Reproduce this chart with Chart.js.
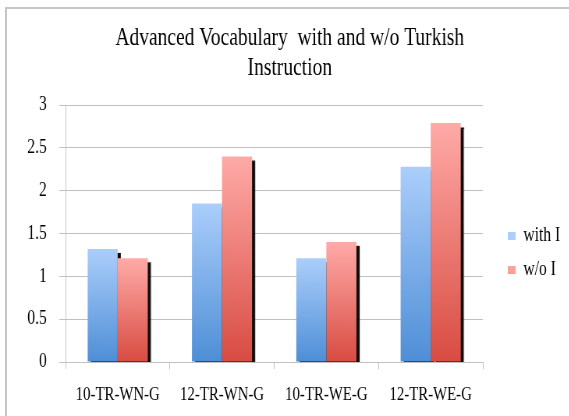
<!DOCTYPE html>
<html>
<head>
<meta charset="utf-8">
<title>Advanced Vocabulary with and w/o Turkish Instruction</title>
<script src="https://cdn.jsdelivr.net/npm/chart.js@4/dist/chart.umd.min.js"></script>
<style>
  html, body { margin: 0; padding: 0; background: #fff; overflow: hidden; }
  body { width: 569px; height: 416px; position: relative; }
  /* chart frame: only its top and left edges are inside the picture */
  #frame {
    position: absolute; left: 5px; top: 7px; width: 600px; height: 450px;
    border-left: 2px solid #c6c6c6; border-top: 2px solid #c6c6c6;
  }
  /* the original chart is horizontally squeezed, so draw it wide and squeeze it */
  #wrap {
    position: absolute; left: 0; top: 0; width: 730px; height: 416px;
    transform: scaleX(0.78); transform-origin: 0 0;
  }
</style>
</head>
<body>
<div id="frame"></div>
<div id="wrap"><canvas id="chart"></canvas></div>
<script>
// ─────────────────────────────────────────────────────────────────────────────
// Data
// ─────────────────────────────────────────────────────────────────────────────

const CATEGORIES = ['10-TR-WN-G', '12-TR-WN-G', '10-TR-WE-G', '12-TR-WE-G'];
const WITH_I     = [1.32, 1.85, 1.21, 2.28];
const WITHOUT_I  = [1.21, 2.40, 1.40, 2.79];
const SERIES     = ['with I', 'w/o I'];
const TITLE      = ['Advanced Vocabulary  with and w/o Turkish', 'Instruction'];
const Y_MAX  = 3;
const Y_STEP = 0.5;

// ─────────────────────────────────────────────────────────────────────────────
// Styling
// ─────────────────────────────────────────────────────────────────────────────

const FONT_FAMILY = "'Liberation Serif', 'Times New Roman', serif";
const GRID = '#c0c0c0';
const SHADOW = 'rgba(0,0,0,0.95)';
const SHADOW_DX = 4;
const SHADOW_DY = 4;

const BLUE = { top: '#abcefb', mid: '#74a8e6', bottom: '#4e8ed6' };
const RED  = { top: '#ffaaa7', mid: '#ec7871', bottom: '#d84c42' };

// vertical gradient per bar, light at the top, dark at the base
function barFill(c) {
  return (ctx) => {
    const chart = ctx.chart;
    if (!chart.chartArea || ctx.type !== 'data') return c.mid;
    const y = chart.scales.y;
    const yTop = y.getPixelForValue(ctx.raw);
    const yBase = y.getPixelForValue(0);
    const grad = chart.ctx.createLinearGradient(0, yTop, 0, yBase);
    grad.addColorStop(0, c.top);
    grad.addColorStop(1, c.bottom);
    return grad;
  };
}

// Hard black drop shadow. Chart.js paints the last dataset first, so the
// first dataset's shadow is laid down before anything else (under the red
// bars), and the red bars get a regular canvas shadow.
const barShadow = {
  id: 'barShadow',
  beforeDatasetsDraw(chart) {
    const { ctx, chartArea: a } = chart;
    ctx.save();
    ctx.beginPath();
    ctx.rect(a.left, a.top, a.right - a.left, a.bottom - a.top);
    ctx.clip();
    ctx.fillStyle = SHADOW;
    for (const el of chart.getDatasetMeta(0).data) {
      const { x, y, base, width } = el.getProps(['x', 'y', 'base', 'width'], true);
      ctx.fillRect(x - width / 2 + SHADOW_DX, y + SHADOW_DY, width, base - y);
    }
    ctx.restore();
  },
  beforeDatasetDraw(chart, args) {
    const c = chart.ctx;
    c.save();
    if (args.index === 1) {
      c.shadowColor = SHADOW;
      c.shadowOffsetX = SHADOW_DX;
      c.shadowOffsetY = SHADOW_DY;
      c.shadowBlur = 1;
    }
  },
  afterDatasetDraw(chart) {
    chart.ctx.restore();
  },
};

new Chart(document.getElementById('chart'), { // eslint-disable-line no-undef
  type: 'bar',
  data: {
    labels: CATEGORIES,
    datasets: [
      {
        label: SERIES[0],
        data: WITH_I,
        backgroundColor: barFill(BLUE),
        borderWidth: 0,
        clip: 0,
      },
      {
        label: SERIES[1],
        data: WITHOUT_I,
        backgroundColor: barFill(RED),
        borderWidth: 0,
        clip: 0,
      },
    ],
  },
  plugins: [barShadow],
  options: {
    responsive: true,
    maintainAspectRatio: false,
    devicePixelRatio: 1,
    animation: false,
    categoryPercentage: 0.576,
    barPercentage: 1,
    layout: { padding: { top: 10, left: 20, right: 7, bottom: 0 } },
    scales: {
      x: {
        grid: {
          offset: true,
          drawOnChartArea: false,
          drawTicks: true,
          tickLength: 7,
          color: GRID,
        },
        border: { display: true, color: GRID },
        ticks: {
          color: '#000',
          padding: 15,
          maxRotation: 0,
          font: { family: FONT_FAMILY, size: 19 },
        },
        afterFit: (s) => { s.height = 54; },
      },
      y: {
        min: 0,
        max: Y_MAX,
        grid: { color: GRID, tickLength: 8, drawTicks: true },
        border: { display: true, color: GRID },
        ticks: {
          stepSize: Y_STEP,
          color: '#000',
          padding: 16,
          font: { family: FONT_FAMILY, size: 20 },
          callback: (v) => String(v),
        },
        afterFit: (s) => { s.width = 64; },
      },
      // empty spacer between the plot and the legend
      gap: {
        type: 'linear',
        axis: 'y',
        position: 'right',
        grid: { display: false, drawTicks: false },
        border: { display: false },
        ticks: { display: false },
        afterFit: (s) => { s.width = 18; },
      },
    },
    plugins: {
      title: {
        display: true,
        text: TITLE,
        color: '#000',
        font: { family: FONT_FAMILY, size: 25, weight: 'normal', lineHeight: 1.2 },
        padding: { top: 13, bottom: 22 },
      },
      legend: {
        position: 'right',
        fullSize: false,
        maxWidth: 86,
        title: { display: true, text: ' ', padding: 0, font: { size: 10, lineHeight: 3.9 } },
        labels: {
          color: '#000',
          boxWidth: 10,
          boxHeight: 8,
          padding: 14,
          font: { family: FONT_FAMILY, size: 20 },
        },
      },
      tooltip: { enabled: false },
    },
  },
});
</script>
</body>
</html>
